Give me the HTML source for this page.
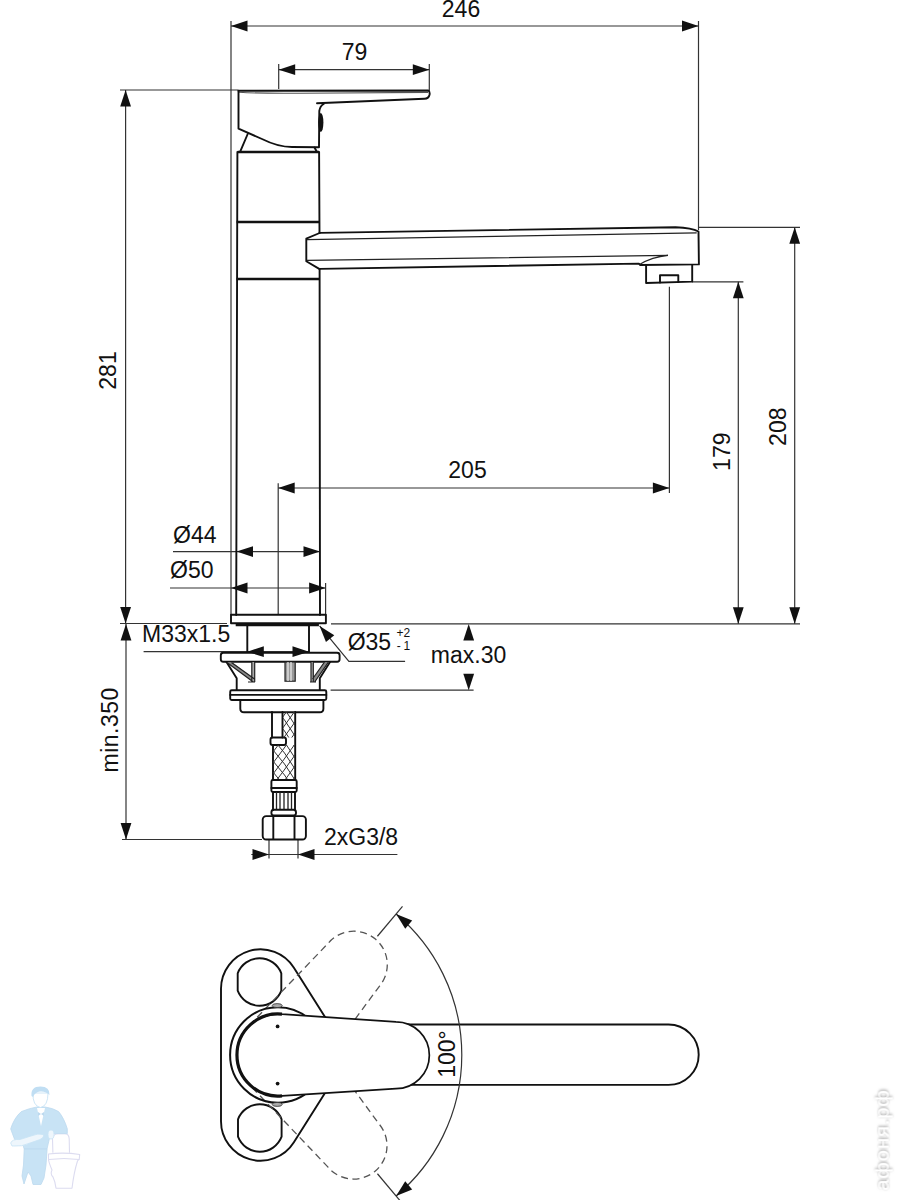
<!DOCTYPE html>
<html><head><meta charset="utf-8"><title>drawing</title>
<style>
html,body{margin:0;padding:0;background:#fff;width:900px;height:1200px;overflow:hidden;}
svg{display:block;}
text{font-family:"Liberation Sans",sans-serif;font-size:23px;fill:#111;}
.o{fill:none;stroke:#111;stroke-width:1.9;stroke-linejoin:round;stroke-linecap:round;}
.ot{fill:none;stroke:#111;stroke-width:2.6;}
.d{fill:none;stroke:#333;stroke-width:1.2;}
.g{fill:none;stroke:#777;stroke-width:1;}
.g2{fill:none;stroke:#222;stroke-width:1.2;}
.g3{fill:none;stroke:#333;stroke-width:1;}
.a{fill:#111;stroke:none;}
.dash{fill:none;stroke:#555;stroke-width:1.3;stroke-dasharray:7 4.5;}
</style></head><body>
<svg width="900" height="1200" viewBox="0 0 900 1200">
<defs><filter id="sh" x="-50%" y="-50%" width="200%" height="200%"><feDropShadow dx="1" dy="0" stdDeviation="1.3" flood-color="#777" flood-opacity="0.75"/></filter></defs>
<rect width="900" height="1200" fill="#fff"/>
<line class="d" x1="231" y1="21" x2="231" y2="615"/>
<line class="d" x1="698.5" y1="21" x2="698.5" y2="230"/>
<line class="d" x1="231" y1="26" x2="698.5" y2="26"/>
<polygon class="a" points="231.00,26.00 247.50,20.60 247.50,31.40"/>
<polygon class="a" points="698.50,26.00 682.00,31.40 682.00,20.60"/>
<text x="461" y="17" text-anchor="middle">246</text>
<line class="d" x1="278.7" y1="64" x2="278.7" y2="89"/>
<line class="d" x1="429.3" y1="64" x2="429.3" y2="91"/>
<line class="d" x1="278.7" y1="69.7" x2="429.3" y2="69.7"/>
<polygon class="a" points="278.70,69.70 295.20,64.30 295.20,75.10"/>
<polygon class="a" points="429.30,69.70 412.80,75.10 412.80,64.30"/>
<text x="354.6" y="60" text-anchor="middle">79</text>
<line class="d" x1="120" y1="90" x2="238" y2="90"/>
<line class="d" x1="125.6" y1="90" x2="125.6" y2="623.5"/>
<polygon class="a" points="125.60,90.00 131.00,106.50 120.20,106.50"/>
<polygon class="a" points="125.60,623.50 120.20,607.00 131.00,607.00"/>
<text transform="translate(116.2,370.5) rotate(-90)" text-anchor="middle">281</text>
<line class="d" x1="126" y1="624" x2="126" y2="839.5"/>
<polygon class="a" points="126.00,624.00 131.40,640.50 120.60,640.50"/>
<polygon class="a" points="126.00,839.50 120.60,823.00 131.40,823.00"/>
<line class="d" x1="122" y1="839.5" x2="262" y2="839.5"/>
<text transform="translate(118.4,729.8) rotate(-90)" text-anchor="middle" style="letter-spacing:0.5px">min.350</text>
<line class="d" x1="120" y1="623.5" x2="227" y2="623.5"/>
<line class="d" x1="331" y1="623.8" x2="800" y2="623.8"/>
<line class="d" x1="698" y1="227.3" x2="800" y2="227.3"/>
<line class="d" x1="794.7" y1="227.3" x2="794.7" y2="623.8"/>
<polygon class="a" points="794.70,227.30 800.10,243.80 789.30,243.80"/>
<polygon class="a" points="794.70,623.80 789.30,607.30 800.10,607.30"/>
<text transform="translate(785.8,426.7) rotate(-90)" text-anchor="middle">208</text>
<line class="d" x1="692" y1="281.8" x2="743.4" y2="281.8"/>
<line class="d" x1="738.3" y1="281.8" x2="738.3" y2="623.8"/>
<polygon class="a" points="738.30,281.80 743.70,298.30 732.90,298.30"/>
<polygon class="a" points="738.30,623.80 732.90,607.30 743.70,607.30"/>
<text transform="translate(730,451.7) rotate(-90)" text-anchor="middle">179</text>
<line class="d" x1="278.2" y1="483.3" x2="278.2" y2="615"/>
<line class="d" x1="669.4" y1="286.7" x2="669.4" y2="493"/>
<line class="d" x1="278.2" y1="488" x2="669.4" y2="488"/>
<polygon class="a" points="278.20,488.00 294.70,482.60 294.70,493.40"/>
<polygon class="a" points="669.40,488.00 652.90,493.40 652.90,482.60"/>
<text x="467.5" y="478.3" text-anchor="middle">205</text>
<text x="173" y="543" text-anchor="start">Ø44</text>
<line class="d" x1="173" y1="551.6" x2="320" y2="551.6"/>
<polygon class="a" points="236.50,551.60 253.00,546.20 253.00,557.00"/>
<polygon class="a" points="320.00,551.60 303.50,557.00 303.50,546.20"/>
<text x="170" y="578" text-anchor="start">Ø50</text>
<line class="d" x1="170" y1="588" x2="326" y2="588"/>
<polygon class="a" points="231.00,588.00 247.50,582.60 247.50,593.40"/>
<polygon class="a" points="325.60,588.00 309.10,593.40 309.10,582.60"/>
<line class="d" x1="325.6" y1="583" x2="325.6" y2="615"/>
<text x="142" y="642.2" text-anchor="start">M33x1.5</text>
<line class="d" x1="143.6" y1="651.7" x2="309" y2="651.7"/>
<polygon class="a" points="247.30,651.70 263.80,646.30 263.80,657.10"/>
<polygon class="a" points="309.00,651.70 292.50,657.10 292.50,646.30"/>
<text x="347.7" y="650.3" text-anchor="start">Ø35</text>
<text x="396.6" y="636.9" text-anchor="start" style="font-size:12px">+2</text>
<text x="396.8" y="650.3" text-anchor="start" style="font-size:12px">-</text>
<text x="403.5" y="650.3" text-anchor="start" style="font-size:12px">1</text>
<polyline class="d" points="319.6,625.9 348.9,661.3 405.1,661.3"/>
<polygon class="a" points="319.60,625.90 334.28,635.17 325.96,642.05"/>
<line class="d" x1="330.6" y1="690.2" x2="473.6" y2="690.2"/>
<polygon class="a" points="468.70,624.00 474.10,640.50 463.30,640.50"/>
<polygon class="a" points="468.70,690.20 463.30,673.70 474.10,673.70"/>
<text x="430.8" y="662.6" text-anchor="start">max.30</text>
<line class="d" x1="269" y1="840" x2="269" y2="858.6"/>
<line class="d" x1="298" y1="840" x2="298" y2="858.6"/>
<line class="d" x1="251.3" y1="854.5" x2="397.4" y2="854.5"/>
<polygon class="a" points="269.00,854.50 252.50,859.90 252.50,849.10"/>
<polygon class="a" points="298.00,854.50 314.50,849.10 314.50,859.90"/>
<text x="324" y="845" text-anchor="start">2xG3/8</text>
<path class="o" d="M238.5,90.7 L428.3,90.5 Q430,91.5 429.6,94.5 Q428.8,98.6 424.4,98.8 L317,103.3"/>
<path d="M239,92.2 Q262,93.6 300,93.2 L428,92.4" fill="none" stroke="#555" stroke-width="1.1"/>
<path class="o" d="M323.7,104 Q320,106 319.3,111 L319,147.3 L292,147 Q278,147 262,139 L238.5,128.7 L238.5,90.7"/>
<ellipse cx="320.8" cy="122.5" rx="2.6" ry="9.5" fill="#111"/>
<line class="o" x1="247.7" y1="134" x2="240.3" y2="151.3"/>
<line class="o" x1="314.5" y1="147.5" x2="317" y2="152"/>
<path class="o" d="M237.4,152 L236.2,615 M319.1,152 L319.5,233 M319.6,269 L320,615"/>
<path class="ot" d="M237.7,152 H319 M236.6,222 H319.5 M236.5,279 H319.8"/>
<path class="o" d="M319.6,233 L306.3,238.7 V261.3 L319.2,268.9"/>
<path class="o" d="M319.6,232.9 L675.5,227.2 Q692,227.8 698.5,231.5 L698.9,264.4 L640,265 L638.9,263.6 L320,268.9"/>
<path class="g2" d="M307,239.6 L696.7,232.8"/>
<path class="g2" d="M307,260.4 L668,255.4 Q652,257 639.5,264.5"/>
<path class="o" d="M646.1,265 V283 L692.2,281.6 V265"/>
<path class="o" d="M660,282.5 V275.3 H678.3 V282"/>
<rect class="o" x="231" y="614.8" width="94.9" height="8.5"/>
<path class="ot" d="M235.7,624.9 H318.9"/>
<path class="o" d="M247.3,625 V652 M309,625 V652"/>
<rect class="o" x="220.8" y="652.7" width="118.8" height="9" rx="2.5"/>
<path class="o" d="M226.5,662 L236.7,678.3 V690 M330,662 L319.8,678.3 V690"/>
<polygon points="227,662.3 232,662.3 255,679.5 253.5,682.3" fill="#888"/>
<polygon points="329,662.3 324,662.3 312.5,679.5 314.5,682.3" fill="#888"/>
<rect x="251.8" y="662" width="2.9" height="20" fill="#aaa"/><rect x="311" y="662" width="2.3" height="20" fill="#aaa"/>
<path class="g2" d="M227,662.5 L253.3,682 M231.5,662.5 L254.5,679 M251.8,662 V682 M254.7,662 V682 M248,682 H255"/>
<path class="g2" d="M311,662 V682 M313.3,662 V682 M328.4,662 L314.7,682 M324.5,662 L312.5,679 M310,682 H316"/>
<rect x="285" y="662" width="10.2" height="19.2" fill="#999" stroke="#222" stroke-width="1.2"/>
<path class="g2" d="M288,662 V681 M291,662 V681" style="stroke:#eee"/>
<rect class="o" x="230.2" y="690.3" width="96.1" height="9.7" rx="1.5"/>
<line class="o" x1="230.2" y1="694.9" x2="326.3" y2="694.9"/>
<path class="o" d="M240.3,700 V708.8 Q240.3,712.3 244,712.3 H319.8 Q323.4,712.3 323.4,708.8 V700"/>
<path class="o" d="M272,712 V737.5 M282.5,712 V737.5 M295.2,712 V780 M273,745 V780"/>
<rect class="o" x="270.5" y="737.5" width="15.5" height="7.5" rx="2"/>
<clipPath id="c1"><rect x="283" y="712" width="12" height="25.5"/><rect x="273" y="745" width="22" height="35"/></clipPath>
<path class="g3" clip-path="url(#c1)" d="M273,686 Q283,673 295,656 M273,697 Q283,684 295,667 M273,708 Q283,695 295,678 M273,719 Q283,706 295,689 M273,730 Q283,717 295,700 M273,741 Q283,728 295,711 M273,752 Q283,739 295,722 M273,763 Q283,750 295,733 M273,774 Q283,761 295,744 M273,785 Q283,772 295,755 M273,796 Q283,783 295,766 M273,807 Q283,794 295,777 M273,818 Q283,805 295,788 M273,662 Q285,675 295,692 M273,673 Q285,686 295,703 M273,684 Q285,697 295,714 M273,695 Q285,708 295,725 M273,706 Q285,719 295,736 M273,717 Q285,730 295,747 M273,728 Q285,741 295,758 M273,739 Q285,752 295,769 M273,750 Q285,763 295,780 M273,761 Q285,774 295,791 M273,772 Q285,785 295,802 M273,783 Q285,796 295,813 M273,794 Q285,807 295,824"/>
<rect class="o" x="271.4" y="780" width="25.3" height="12" rx="1.5"/>
<line class="o" x1="271.4" y1="788" x2="296.7" y2="788"/>
<path class="o" d="M273,792 V810 M295,792 V810"/>
<path d="M276.5,792 V810 M280,792 V810 M284,792 V810 M288,792 V810 M291.5,792 V810" stroke="#222" stroke-width="1.3" fill="none"/>
<rect class="o" x="271.4" y="809.8" width="24.6" height="5.6" rx="2.5"/>
<rect class="o" x="262.7" y="816.1" width="43.2" height="23.4" rx="3.5"/>
<path class="o" d="M273.3,816.5 V839 M294.5,816.5 V839"/>
<path class="o" d="M221,1121.2 V988.8 A39.5,39.5 0 0 1 293.9,967.7 L349,1055 L293.9,1142.3 A39.5,39.5 0 0 1 221,1121.2 Z"/>
<path class="o" d="M237.7,973.3 A23.3,23.3 0 0 1 281.3,973.3 V990.7 A23.3,23.3 0 0 1 237.7,990.7 Z"/>
<path class="o" d="M238,1119.3 A23.3,23.3 0 0 1 281.6,1119.3 V1136.7 A23.3,23.3 0 0 1 238,1136.7 Z"/>
<path class="dash" d="M282,1014.2 L396,1021.8 A33.4,33.4 0 0 1 396,1088.6 L282,1095.8 A41,41 0 1 1 282,1014.2 Z" transform="rotate(-50 277.8 1055)"/>
<path class="dash" d="M282,1014.2 L396,1021.8 A33.4,33.4 0 0 1 396,1088.6 L282,1095.8 A41,41 0 1 1 282,1014.2 Z" transform="rotate(50 277.8 1055)"/>
<circle cx="277.8" cy="1055" r="47.7" fill="none" stroke="#111" stroke-width="2"/>
<ellipse cx="277.2" cy="1005.6" rx="5" ry="2" fill="#aaa" stroke="#333" stroke-width="0.8"/>
<ellipse cx="277.2" cy="1104.4" rx="5" ry="2" fill="#aaa" stroke="#333" stroke-width="0.8"/>
<path class="o" d="M380,1024.5 H668.5 A30.2,30.2 0 0 1 668.5,1084.9 H380" fill="#fff"/>
<path d="M282,1014.2 L396,1021.8 A33.4,33.4 0 0 1 396,1088.6 L282,1095.8 A41,41 0 1 1 282,1014.2 Z" fill="#fff" stroke="#111" stroke-width="1.7"/>
<path d="M282,1014.2 A41,41 0 1 0 282,1095.8" fill="none" stroke="#111" stroke-width="3.2"/>
<circle cx="277.6" cy="1026.4" r="1.9" fill="#111"/><circle cx="277.6" cy="1083.6" r="1.9" fill="#111"/>
<path class="d" d="M396.07,914.05 A184,184 0 0 1 396.07,1195.95"/>
<polygon class="a" points="396.07,914.05 412.18,920.52 405.24,928.79"/>
<polygon class="a" points="396.07,1195.95 405.24,1181.21 412.18,1189.48"/>
<line class="d" x1="377.43" y1="936.26" x2="402.5" y2="906.39"/>
<line class="d" x1="377.43" y1="1173.74" x2="402.5" y2="1203.61"/>
<text transform="translate(455.1,1054) rotate(-90)" text-anchor="middle">100°</text>

<g stroke-linejoin="round">
<path d="M52.9,1152.8 L52.5,1139 Q53,1134 58,1133.8 L65,1133.8 Q69,1134 69.2,1139 L69.5,1152.8" fill="#fff" stroke="#dcdcf0" stroke-width="1.1"/>
<path d="M48.5,1154 Q64,1152 79.7,1154.5 L79.2,1159.5 Q78,1160 77.5,1161 Q74,1172 72,1188.2 L56,1188.2 Q55,1181 53,1177 Q50,1174 52,1170 Q49,1163 48.5,1159.5 Z" fill="#fff" stroke="#dcdcf0" stroke-width="1.1"/>
<path d="M48.8,1159.5 Q64,1157.5 79.2,1159.5" fill="none" stroke="#dcdcf0" stroke-width="1"/>
<path d="M21.3,1111.6 Q30,1108 37,1107 L45,1107 Q53,1108 58.6,1111.6 Q64,1118 67.3,1128.9 L67.3,1133.6 L53,1133.6 L50,1136 L47,1149 L24.2,1149 L22,1142 L14.6,1139.4 L10.7,1128.9 Q14,1118 21.3,1111.6 Z" fill="#c8e3f5" stroke="#bcd9ef" stroke-width="0.8"/>
<path d="M24.2,1149 L47.1,1149 L46,1165 L44,1178 L41,1184.5 L33,1184.5 L31,1176 L28,1172 L24,1184 L22,1176 L23.5,1165 Z" fill="#c8e3f5" stroke="#bcd9ef" stroke-width="0.8"/>
<path d="M37,1108 L41,1126 L45,1108 Z" fill="#fff"/>
<path d="M38,1112 L41,1114 L44,1112 L44,1116 L41,1114 L38,1116 Z" fill="#bcd9ef"/>
<path d="M10.7,1143 Q12,1139 20,1139.5 L31,1136 Q38,1133 43,1134.5 Q45,1137 40,1139.5 L30,1143 Q22,1147 12,1146 Z" fill="#eef6fc" stroke="#c8e3f5" stroke-width="0.8"/>
<ellipse cx="51" cy="1134.5" rx="3" ry="4.5" fill="#eef6fc" stroke="#c8e3f5" stroke-width="0.8"/>
<path d="M33,1093 Q32.5,1106 40.5,1107.5 Q48,1106 48,1093 Z" fill="#fff" stroke="#c8e3f5" stroke-width="0.9"/>
<path d="M31.5,1096 Q30.5,1086.5 40.5,1086.5 Q50,1086.5 49.5,1095 Q46,1091 40,1091.5 Q35,1092 33,1097 Z" fill="#c0def3"/>
</g>

<text transform="translate(888.5,1140) rotate(-90) scale(1.12,1)" text-anchor="middle" style="font-size:18px;fill:#fff;letter-spacing:0.8px" filter="url(#sh)">афоня.рф</text>
</svg></body></html>
